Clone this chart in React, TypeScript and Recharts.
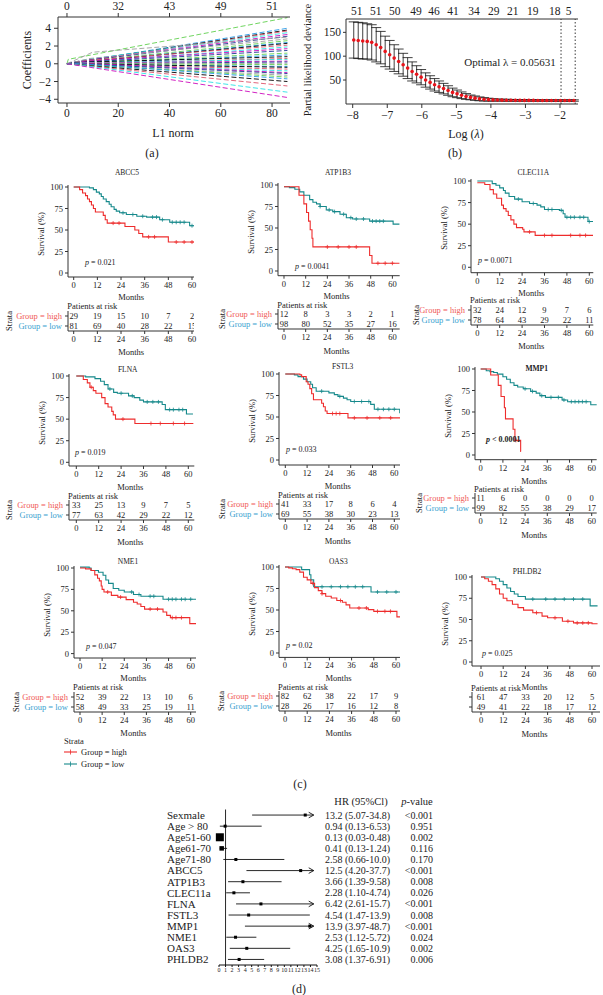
import React from "react";
import { ComposedChart, Line, Scatter, XAxis, YAxis, ErrorBar, ReferenceLine } from "recharts";

const FONT = '"Liberation Serif", "Times New Roman", serif';
const RED = "#EE2C2C";
const TEAL = "#16898B";
const RED_TXT = "#F05A55";
const BLUE_TXT = "#389FD0";
const INK = "#222";

// (a) lasso coefficient paths
const L1_TICKS = [0, 20, 40, 60, 80];
const L1_TOP_COUNTS = [0, 32, 43, 49, 51];
const COEF_ENTRY = [0.5, 4, 6, 2, 8, 5, 3, 9, 7, 1.5, 6, 9, 4, 8, 2, 10, 7, 5, 9, 3, 6, 8, 4, 10, 9, 7, 5, 8, 6, 10, 3, 9, 7, 5, 8, 10, 9, 9];
const COEF_ENTRY_VAL = [0.5, 0.2, 0.3, 0.1, 0.5, 0.3, 0.2, 0.6, 0.3, 0.1, 0.2, 0.4, 0.1, 0.3, 0.1, 1.3, 0.1, 0, 0.2, 0, 0.1, 0.1, 0, 0.1, 0, -0.1, 0, -0.1, -0.1, 0, 0, -0.2, -0.1, 0, -0.2, -0.3, -0.3, -0.4];
const COEF_END = [5.2, 4.0, 3.8, 3.7, 3.5, 3.3, 3.1, 2.8, 2.6, 2.4, 2.3, 2.1, 1.9, 1.7, 1.5, 3.0, 1.2, 1.0, 0.8, 0.6, 0.5, 0.3, 0.2, 0.0, -0.1, -0.3, -0.4, -0.6, -0.8, -1.0, -1.1, -1.3, -1.5, -1.7, -2.0, -2.5, -3.2, -3.8];
const COEF_PALETTE = ["#61D04F", "#2297E6", "#000000", "#DF536B", "#28E2E5", "#CD0BBC", "#1F3A93", "#9E9E9E"];

// (b) cross-validation curve
const LOG_LAMBDA = [-7.97, -7.84, -7.71, -7.58, -7.45, -7.32, -7.19, -7.06, -6.93, -6.8, -6.67, -6.54, -6.41, -6.28, -6.15, -6.02, -5.89, -5.76, -5.63, -5.5, -5.37, -5.24, -5.11, -4.98, -4.85, -4.72, -4.59, -4.46, -4.33, -4.2, -4.07, -3.94, -3.81, -3.68, -3.55, -3.42, -3.29, -3.16, -3.03, -2.9, -2.77, -2.64, -2.51, -2.38, -2.25, -2.12, -1.99, -1.86, -1.73, -1.6];
const CV_MEAN = [134, 133, 132, 131, 129, 124, 118, 110, 103, 96, 89, 82, 75, 68, 62, 56, 50, 45, 40, 36, 32, 28, 24, 21, 18, 15.5, 13.5, 12, 10.5, 9.5, 8.8, 8.3, 8, 7.8, 7.6, 7.5, 7.4, 7.3, 7.3, 7.2, 7.2, 7.1, 7.1, 7.1, 7, 7, 7, 7, 7, 7];
const CV_ERR = [38, 38, 38, 37, 37, 36, 34, 32, 30, 28, 26, 24, 22, 20, 18, 16, 15, 14, 13, 12, 11, 10, 9, 8, 7, 6, 5, 4.5, 4, 3.5, 3, 2.5, 2, 2, 2, 1.8, 1.8, 1.6, 1.6, 1.5, 1.5, 1.5, 1.5, 1.5, 1.5, 1.5, 1.5, 1.5, 1.5, 1.5];
const LAMBDA_TOP_POS = [-7.88, -7.33, -6.78, -6.17, -5.65, -5.1, -4.49, -3.92, -3.37, -2.79, -2.15, -1.75];
const LAMBDA_TOP_NZERO = [51, 51, 50, 49, 46, 41, 34, 29, 21, 19, 18, 5];
const LAMBDA_LINES = [-1.97, -1.56];

// (c) Kaplan-Meier curves: [month, survival %]
const MONTH_TICKS = [0, 12, 24, 36, 48, 60];
const ABCC5_HIGH = [[0, 100], [3, 97], [4.5, 93], [6, 90], [7, 86], [8, 83], [9, 79], [10, 75], [11, 71], [15, 67], [16, 62], [17, 58], [26, 54], [31, 50], [33, 46], [35, 42], [48, 36], [61, 36]];
const ABCC5_LOW = [[0, 100], [8, 99], [10, 97], [11.5, 94], [13, 92], [14, 89], [15, 86], [16.5, 83], [18, 80], [19, 77], [20.5, 74], [21.6, 72], [23.3, 70], [26.7, 68], [32, 66], [37, 65], [43.6, 62], [48.7, 59], [58.8, 55], [61, 55]];
const ABCC5_HIGH_CENS = [20, 23, 38, 41, 52, 56, 60];
const ABCC5_LOW_CENS = [25, 30, 35, 40, 42, 45, 50, 52, 54, 56, 60];
const ABCC5_RISK_HIGH = [29, 19, 15, 10, 7, 2];
const ABCC5_RISK_LOW = [81, 69, 40, 28, 22, 15];

const ATP1B3_HIGH = [[0, 98], [8.3, 88], [11, 78], [12.5, 68], [13.6, 58], [14.5, 48], [15.5, 38], [16, 28], [47.4, 18], [48.7, 9], [64, 9]];
const ATP1B3_LOW = [[0, 98], [3, 97], [6, 95], [8.7, 92], [11, 88], [14.2, 83], [16, 80], [18, 78], [20, 75], [23.4, 71], [27, 69], [31, 66], [34.5, 62], [38, 60.5], [47.4, 58], [60.4, 54.5], [64, 54.5]];
const ATP1B3_HIGH_CENS = [24, 30, 36, 40, 52, 56, 60];
const ATP1B3_LOW_CENS = [20, 25, 28, 33, 37, 40, 44, 49, 51, 53, 55];
const ATP1B3_RISK_HIGH = [12, 8, 3, 3, 2, 1];
const ATP1B3_RISK_LOW = [98, 80, 52, 35, 27, 16];

const CLEC11A_HIGH = [[0, 98], [4, 96], [6.8, 90], [8.6, 85], [10.4, 80], [13, 72], [14, 68], [15.4, 65], [16.6, 60], [18, 55], [19.6, 50], [21, 46], [24.3, 44], [25, 41], [31, 37], [62, 37]];
const CLEC11A_LOW = [[0, 100], [8, 97], [10, 95], [12, 92], [14, 89], [15, 86], [17, 82], [20, 79], [24, 76], [28, 74], [32, 72], [34, 70], [36, 67], [44, 66], [46, 62], [47, 58], [59.3, 53], [62, 53]];
const CLEC11A_HIGH_CENS = [28, 36, 40, 50, 55, 58];
const CLEC11A_LOW_CENS = [22, 30, 38, 40, 45, 48, 50, 52, 55, 57, 60];
const CLEC11A_RISK_HIGH = [32, 24, 12, 9, 7, 6];
const CLEC11A_RISK_LOW = [78, 64, 43, 29, 22, 11];

const FLNA_HIGH = [[0, 100], [3.75, 96], [5.9, 92], [7.3, 87], [9.1, 83], [10.5, 80], [13.6, 75], [15.4, 68], [17, 64], [19, 59], [19.8, 55], [21, 50], [31.4, 45], [62.7, 45]];
const FLNA_LOW = [[0, 100], [5, 99], [10, 97], [13, 94], [15, 90], [17, 85], [20, 81], [22, 80], [28, 77], [31, 75], [34, 72], [36, 70], [46, 67], [47.7, 61], [59, 56], [62.5, 56]];
const FLNA_HIGH_CENS = [8, 25, 40, 45, 52, 58];
const FLNA_LOW_CENS = [18, 24, 30, 38, 41, 44, 50, 52, 55, 57];
const FLNA_RISK_HIGH = [33, 25, 13, 9, 7, 5];
const FLNA_RISK_LOW = [77, 63, 42, 29, 22, 12];

const FSTL3_HIGH = [[0, 100], [8, 99], [9, 97], [11.5, 91], [12.5, 88], [13.5, 83], [14.5, 77], [15.5, 70], [20, 66], [21, 62], [22, 57], [23, 54], [34.5, 49], [64, 49]];
const FSTL3_LOW = [[0, 100], [5, 99], [7, 97], [10, 94], [12, 91], [14, 88], [15, 84], [17, 80], [24, 78], [27, 76], [29, 74], [32, 72], [34, 70], [36, 68], [47, 64.7], [49, 59], [63, 55], [64, 55]];
const FSTL3_HIGH_CENS = [26, 28, 30, 38, 45, 52, 58];
const FSTL3_LOW_CENS = [20, 30, 38, 42, 46, 51, 54, 57, 60];
const FSTL3_RISK_HIGH = [41, 33, 17, 8, 6, 4];
const FSTL3_RISK_LOW = [69, 55, 38, 30, 23, 13];

const MMP1_HIGH = [[0, 100], [5.4, 93], [9.5, 81], [11, 68], [12.8, 55], [13.4, 42], [17.5, 30], [18.5, 17], [21.6, 4], [21.7, 4]];
const MMP1_LOW = [[0, 100], [3, 98], [5, 97], [7, 96], [9, 94], [12, 91], [14, 88], [16, 84], [18, 81], [20, 79], [23, 77], [27, 74], [30, 72], [32, 69], [35, 67], [44, 64], [47, 62], [59.5, 58.5], [63, 58.5]];
const MMP1_HIGH_CENS = [19];
const MMP1_LOW_CENS = [24, 28, 33, 38, 42, 45, 49, 51, 53, 55, 57];
const MMP1_RISK_HIGH = [11, 6, 0, 0, 0, 0];
const MMP1_RISK_LOW = [99, 82, 55, 38, 29, 17];

const NME1_HIGH = [[0, 100], [3, 99], [6, 97], [8, 92], [9.5, 88], [10.5, 85], [11.5, 79], [12, 75], [13, 72], [17, 68], [20.5, 66], [25, 63], [29, 60], [31, 58], [33, 55], [35, 52], [45, 48.6], [47, 44.7], [49, 42], [59.5, 35], [63, 35]];
const NME1_LOW = [[0, 101], [5, 100], [6, 97], [10, 95], [12.5, 91.5], [14, 86], [15.5, 82], [18, 76], [21, 74], [24, 72], [29, 69], [33, 67], [45, 63.5], [63, 63.5]];
const NME1_HIGH_CENS = [15, 22, 38, 42, 50, 52, 55];
const NME1_LOW_CENS = [28, 32, 38, 40, 48, 50, 52, 55, 57, 60];
const NME1_RISK_HIGH = [52, 39, 22, 13, 10, 6];
const NME1_RISK_LOW = [58, 49, 33, 25, 19, 11];

const OAS3_HIGH = [[0, 100], [2, 99], [4, 98], [6, 97], [8, 94], [10, 88], [12, 85], [14, 81], [16, 76], [18, 72.5], [20, 69], [22, 66], [25, 64], [28, 61], [31, 59], [33, 56], [35, 52.3], [45, 50.4], [48, 48.4], [60.5, 42], [63, 42]];
const OAS3_LOW = [[0, 100], [9, 97], [13.3, 91], [14, 85], [15.5, 77], [46.5, 71], [63, 71]];
const OAS3_HIGH_CENS = [15, 20, 30, 40, 44, 50, 54, 57];
const OAS3_LOW_CENS = [20, 25, 30, 34, 38, 42, 50, 55, 60];
const OAS3_RISK_HIGH = [82, 62, 38, 22, 17, 9];
const OAS3_RISK_LOW = [28, 26, 17, 16, 12, 8];

const PHLDB2_HIGH = [[0, 100], [2, 98], [4, 95], [6, 91], [8, 86], [10, 80], [12, 75], [14, 72], [17, 68], [20, 64], [23, 61], [28, 58], [33, 54], [36, 52], [44, 48], [50, 46], [60, 45], [63, 45]];
const PHLDB2_LOW = [[0, 100], [8, 98], [10, 95], [12, 91], [14, 87], [16, 83], [18, 80], [20, 77], [24, 74], [58, 74], [59, 66], [63, 66]];
const PHLDB2_HIGH_CENS = [30, 40, 47, 52, 55, 58];
const PHLDB2_LOW_CENS = [28, 35, 40, 45, 50, 55];
const PHLDB2_RISK_HIGH = [61, 47, 33, 20, 12, 5];
const PHLDB2_RISK_LOW = [49, 41, 22, 18, 17, 12];

// (d) multivariate Cox forest plot
const FOREST_LABELS = ["Sexmale", "Age > 80", "Age51-60", "Age61-70", "Age71-80", "ABCC5", "ATP1B3", "CLEC11a", "FLNA", "FSTL3", "MMP1", "NME1", "OAS3", "PHLDB2"];
const FOREST_HR = [13.2, 0.94, 0.13, 0.41, 2.58, 12.5, 3.66, 2.28, 6.42, 4.54, 13.9, 2.53, 4.25, 3.08];
const FOREST_LO = [5.07, 0.13, 0.03, 0.13, 0.66, 4.2, 1.39, 1.1, 2.61, 1.47, 3.97, 1.12, 1.65, 1.37];
const FOREST_HI = [34.8, 6.53, 0.48, 1.24, 10.0, 37.7, 9.58, 4.74, 15.7, 13.9, 48.7, 5.72, 10.9, 6.91];
const FOREST_P = ["<0.001", "0.951", "0.002", "0.116", "0.170", "<0.001", "0.008", "0.026", "<0.001", "0.008", "<0.001", "0.024", "0.002", "0.006"];
const FOREST_TICKS = [0, 1, 2, 3, 4, 5, 6, 7, 8, 9, 10, 11, 12, 13, 14, 15];

// layout (pixel geometry of each survival panel)
const KM_PANELS = [
  { title: "ABCC5", high: ABCC5_HIGH, low: ABCC5_LOW, hc: ABCC5_HIGH_CENS, lc: ABCC5_LOW_CENS, rh: ABCC5_RISK_HIGH, rl: ABCC5_RISK_LOW, p: "= 0.021",
    g: { ax: 68.3, x0: 74, x60: 192.3, xEnd: 194.3, y100: 186.7, y0: 272.7, xAxisY: 276.7, tAxisY: 330.7, titleX: 127, titleY: 173, pX: 85, pY: 262.7, stX: 5 } },
  { title: "ATP1B3", high: ATP1B3_HIGH, low: ATP1B3_LOW, hc: ATP1B3_HIGH_CENS, lc: ATP1B3_LOW_CENS, rh: ATP1B3_RISK_HIGH, rl: ATP1B3_RISK_LOW, p: "= 0.0041",
    g: { ax: 278.3, x0: 284.3, x60: 392.7, xEnd: 400, y100: 185, y0: 271, xAxisY: 275.7, tAxisY: 329, titleX: 338, titleY: 173, pX: 295, pY: 267.3, stX: 218 } },
  { title: "CLEC11A", high: CLEC11A_HIGH, low: CLEC11A_LOW, hc: CLEC11A_HIGH_CENS, lc: CLEC11A_LOW_CENS, rh: CLEC11A_RISK_HIGH, rl: CLEC11A_RISK_LOW, p: "= 0.0071",
    g: { ax: 471, x0: 477.3, x60: 589.3, xEnd: 593.3, y100: 181, y0: 267.3, xAxisY: 272.7, tAxisY: 324.5, titleX: 533.3, titleY: 173.3, pX: 478, pY: 261, stX: 411.7 } },
  { title: "FLNA", high: FLNA_HIGH, low: FLNA_LOW, hc: FLNA_HIGH_CENS, lc: FLNA_LOW_CENS, rh: FLNA_RISK_HIGH, rl: FLNA_RISK_LOW, p: "= 0.019",
    g: { ax: 69, x0: 76.3, x60: 188.3, xEnd: 194.3, y100: 376, y0: 462.3, xAxisY: 466, tAxisY: 520, titleX: 127.7, titleY: 370, pX: 75, pY: 453.3, stX: 5 } },
  { title: "FSTL3", high: FSTL3_HIGH, low: FSTL3_LOW, hc: FSTL3_HIGH_CENS, lc: FSTL3_LOW_CENS, rh: FSTL3_RISK_HIGH, rl: FSTL3_RISK_LOW, p: "= 0.033",
    g: { ax: 279, x0: 285.3, x60: 394.3, xEnd: 400, y100: 374, y0: 460, xAxisY: 465, tAxisY: 519, titleX: 342.7, titleY: 367.3, pX: 286, pY: 450, stX: 218.3 } },
  { title: "MMP1", high: MMP1_HIGH, low: MMP1_LOW, hc: MMP1_HIGH_CENS, lc: MMP1_LOW_CENS, rh: MMP1_RISK_HIGH, rl: MMP1_RISK_LOW, p: "< 0.0001", bold: true,
    g: { ax: 475, x0: 480.7, x60: 591.7, xEnd: 596.7, y100: 369.3, y0: 455.3, xAxisY: 460, tAxisY: 513.3, titleX: 536.7, titleY: 369.3, pX: 486, pY: 440, stX: 415 } },
  { title: "NME1", high: NME1_HIGH, low: NME1_LOW, hc: NME1_HIGH_CENS, lc: NME1_LOW_CENS, rh: NME1_RISK_HIGH, rl: NME1_RISK_LOW, p: "= 0.047",
    g: { ax: 74, x0: 80, x60: 190.7, xEnd: 196, y100: 567.7, y0: 653.3, xAxisY: 657.7, tAxisY: 711.7, titleX: 128, titleY: 561.7, pX: 86, pY: 646.7, stX: 12 } },
  { title: "OAS3", high: OAS3_HIGH, low: OAS3_LOW, hc: OAS3_HIGH_CENS, lc: OAS3_LOW_CENS, rh: OAS3_RISK_HIGH, rl: OAS3_RISK_LOW, p: "= 0.02",
    g: { ax: 279, x0: 285, x60: 396, xEnd: 400, y100: 567.3, y0: 653.3, xAxisY: 657.7, tAxisY: 711, titleX: 338.3, titleY: 561.7, pX: 286, pY: 646, stX: 217 } },
  { title: "PHLDB2", high: PHLDB2_HIGH, low: PHLDB2_LOW, hc: PHLDB2_HIGH_CENS, lc: PHLDB2_LOW_CENS, rh: PHLDB2_RISK_HIGH, rl: PHLDB2_RISK_LOW, p: "= 0.025", noGroups: true,
    g: { ax: 472, x0: 481, x60: 592, xEnd: 600, y100: 577, y0: 662, xAxisY: 666, tAxisY: 712, titleX: 527, titleY: 572, pX: 482, pY: 654, stX: 0 } },
];

const minus = (v: number) => (v < 0 ? `\u2212${-v}` : `${v}`);

function T({ x, y, size = 9, anchor = "middle", rotate = false, style = {}, children }: any) {
  const tx = anchor === "middle" ? "-50%" : anchor === "end" ? "-100%" : "0";
  return (
    <div
      style={{
        position: "absolute", left: x, top: y, whiteSpace: "nowrap", lineHeight: 1, fontSize: size, color: INK,
        transform: `translate(${tx}, -50%)${rotate ? " rotate(-90deg)" : ""}`, ...style,
      }}
    >
      {children}
    </div>
  );
}

const toPts = (arr: number[][]) => arr.map(([x, y]) => ({ x, y }));
const stepAt = (arr: number[][], t: number) => {
  let v = arr[0][1];
  for (const [x, y] of arr) if (x <= t) v = y;
  return v;
};
const plusShape = (color: string) => (p: any) => (
  <path d={`M${p.cx - 2},${p.cy}h4M${p.cx},${p.cy - 2}v4`} stroke={color} strokeWidth={0.8} />
);
const numShape = (p: any) => (
  <text x={p.cx} y={p.cy} dy="0.35em" textAnchor="middle" fontSize={8.5} fontFamily={FONT} fill={INK}>
    {p.payload.n}
  </text>
);

const smallTick = { fontSize: 8.5, fill: INK, fontFamily: FONT };

function KMPanel({ panel }: any) {
  const { g } = panel;
  const ppm = (g.x60 - g.x0) / 60;
  const xMin = -(g.x0 - g.ax) / ppm;
  const xMax = (g.xEnd - g.x0) / ppm;
  const ppp = (g.y0 - g.y100) / 100;
  const plotTop = g.y100 - 2;
  const yMax = 100 + 2 / ppp;
  const yMin = -(g.xAxisY - g.y0) / ppp;
  const YW = 34, XH = 24, MT = 2, MR = 6;
  const W = YW + (g.xEnd - g.ax) + MR;
  const H = MT + (g.xAxisY - plotTop) + XH;

  const TW = 64, TH = 20;
  const riskPts = [
    ...panel.rh.map((n: number, i: number) => ({ x: MONTH_TICKS[i], y: 1.5, n })),
    ...panel.rl.map((n: number, i: number) => ({ x: MONTH_TICKS[i], y: 0.5, n })),
  ];
  const midX = (g.x0 + g.x60) / 2 - 2;

  return (
    <>
      <T x={g.titleX} y={g.titleY} size={7.5} style={{ fontWeight: panel.bold ? "bold" : "normal" }}>{panel.title}</T>
      <T x={g.ax - 27} y={(g.y100 + g.y0) / 2 + 4} size={8.5} rotate>Survival (%)</T>
      <div style={{ position: "absolute", left: g.ax - YW, top: plotTop - MT }}>
        <ComposedChart width={W} height={H} margin={{ top: MT, right: MR, left: 0, bottom: 0 }}>
          <XAxis type="number" dataKey="x" domain={[xMin, xMax]} ticks={MONTH_TICKS} interval={0} allowDataOverflow
            height={XH} tickSize={3} tickMargin={2} stroke="#333" tick={smallTick} />
          <YAxis type="number" dataKey="y" domain={[yMin, yMax]} ticks={[0, 25, 50, 75, 100]} interval={0} allowDataOverflow
            width={YW} tickSize={3} tickMargin={2} stroke="#333" tick={smallTick} />
          <Line data={toPts(panel.low)} dataKey="y" type="stepAfter" stroke={TEAL} strokeWidth={1.1} dot={false} isAnimationActive={false} />
          <Line data={toPts(panel.high)} dataKey="y" type="stepAfter" stroke={RED} strokeWidth={1.1} dot={false} isAnimationActive={false} />
          <Scatter data={panel.lc.map((t: number) => ({ x: t, y: stepAt(panel.low, t) }))} dataKey="y" shape={plusShape(TEAL)} isAnimationActive={false} />
          <Scatter data={panel.hc.map((t: number) => ({ x: t, y: stepAt(panel.high, t) }))} dataKey="y" shape={plusShape(RED)} isAnimationActive={false} />
        </ComposedChart>
      </div>
      <T x={g.pX} y={g.pY} size={8} anchor="start" style={{ fontWeight: panel.bold ? "bold" : "normal" }}>
        <i>p</i> {panel.p}
      </T>
      <T x={midX} y={g.xAxisY + 20.5} size={8.5}>Months</T>
      <T x={g.ax - 1} y={g.tAxisY - 24.5} size={8.5} anchor="start">Patients at risk</T>
      <div style={{ position: "absolute", left: g.ax - TW, top: g.tAxisY - TH - 1 }}>
        <ComposedChart width={TW + (g.xEnd - g.ax) + MR} height={1 + TH + 22} margin={{ top: 1, right: MR, left: 0, bottom: 0 }}>
          <XAxis type="number" dataKey="x" domain={[xMin, xMax]} ticks={MONTH_TICKS} interval={0} allowDataOverflow
            height={22} tickSize={3} tickMargin={2} stroke="#333" tick={smallTick} />
          <YAxis type="number" dataKey="y" domain={[0, 2]} ticks={[0.5, 1.5]} interval={0} width={TW} tickSize={3} tickMargin={3} stroke="#333"
            tick={(p: any) => (
              <text x={p.x} y={p.y} dy="0.35em" textAnchor="end" fontSize={8.5} fontFamily={FONT}
                fill={p.payload.value > 1 ? RED_TXT : BLUE_TXT}>
                {panel.noGroups ? "" : p.payload.value > 1 ? "Group = high" : "Group = low"}
              </text>
            )} />
          <Scatter data={riskPts} dataKey="y" shape={numShape} isAnimationActive={false} />
        </ComposedChart>
      </div>
      {!panel.noGroups && <T x={g.stX + 4} y={g.tAxisY - 10} size={8.5} rotate>Strata</T>}
      <T x={midX} y={g.tAxisY + 21.5} size={8.5}>Months</T>
    </>
  );
}

function LassoPaths() {
  return (
    <div style={{ position: "absolute", left: 0, top: 0 }}>
      <ComposedChart width={300} height={125} margin={{ top: 2, right: 10, left: 0, bottom: 0 }}>
        <XAxis xAxisId="b" type="number" dataKey="x" domain={[-3.5, 87]} ticks={L1_TICKS} interval={0} allowDataOverflow
          height={22} tickSize={4} tickMargin={2} stroke="#333" tick={{ fontSize: 11.5, fill: INK, fontFamily: FONT }} />
        <XAxis xAxisId="t" orientation="top" type="number" dataKey="x" domain={[-3.5, 87]} ticks={L1_TICKS} interval={0} allowDataOverflow
          height={15} tickSize={4} tickMargin={3} stroke="#333" tick={{ fontSize: 11.5, fill: INK, fontFamily: FONT }}
          tickFormatter={(v: number, i: number) => `${L1_TOP_COUNTS[i]}`} />
        <YAxis yAxisId="l" type="number" dataKey="y" domain={[-4.42, 5.27]} ticks={[-4, -2, 0, 2, 4]} interval={0} allowDataOverflow
          width={58} tickSize={4} tickMargin={3} stroke="#333" tick={{ fontSize: 11.5, fill: INK, fontFamily: FONT }} tickFormatter={minus} />
        <YAxis yAxisId="r" orientation="right" type="number" dataKey="y" domain={[-4.42, 5.27]} width={0} tick={false} tickLine={false} stroke="#333" />
        {COEF_END.map((end, i) => (
          <Line key={i} xAxisId="b" yAxisId="l" type="linear" dataKey="y"
            data={[{ x: 0, y: 0 }, { x: COEF_ENTRY[i], y: COEF_ENTRY_VAL[i] }, { x: 86, y: end }]}
            stroke={COEF_PALETTE[i % COEF_PALETTE.length]} strokeWidth={0.9} strokeDasharray="5 2.5" dot={false} isAnimationActive={false} />
        ))}
      </ComposedChart>
    </div>
  );
}

function CvCurve() {
  const data = LOG_LAMBDA.map((x, i) => ({ x, y: CV_MEAN[i], err: CV_ERR[i] }));
  const axisTick = { fontSize: 11.5, fill: INK, fontFamily: FONT };
  return (
    <div style={{ position: "absolute", left: 300, top: 0 }}>
      <ComposedChart width={282} height={126} margin={{ top: 5, right: 4, left: 0, bottom: 0 }}>
        <XAxis xAxisId="b" type="number" dataKey="x" domain={[-8.194, -1.479]} ticks={[-8, -7, -6, -5, -4, -3, -2]} interval={0} allowDataOverflow
          height={22} tickSize={4} tickMargin={3} stroke="#333" tick={axisTick} tickFormatter={minus} />
        <XAxis xAxisId="t" orientation="top" type="number" dataKey="x" domain={[-8.194, -1.479]} ticks={LAMBDA_TOP_POS} interval={0} allowDataOverflow
          height={14} tickSize={2} tickMargin={2} tickLine={false} stroke="#333" tick={axisTick}
          tickFormatter={(v: number, i: number) => `${LAMBDA_TOP_NZERO[i]}`} />
        <YAxis yAxisId="l" type="number" dataKey="y" domain={[-0.3, 178]} ticks={[50, 100, 150]} interval={0} allowDataOverflow
          width={46} tickSize={3} tickMargin={2} stroke="#333" tick={axisTick} />
        <YAxis yAxisId="r" orientation="right" type="number" dataKey="y" domain={[-0.3, 178]} width={0} tick={false} tickLine={false} stroke="#333" />
        {LAMBDA_LINES.map((v) => (
          <ReferenceLine key={v} xAxisId="b" yAxisId="l" x={v} stroke="#222" strokeWidth={0.9} strokeDasharray="1.5 2" />
        ))}
        <Scatter xAxisId="b" yAxisId="l" data={data} dataKey="y" isAnimationActive={false}
          shape={(p: any) => <circle cx={p.cx} cy={p.cy} r={1.8} fill="#E8141B" />}>
          <ErrorBar dataKey="err" direction="y" width={5} stroke="#111" strokeWidth={0.8} />
        </Scatter>
      </ComposedChart>
    </div>
  );
}

function ForestPlot() {
  const fmt = (v: number) => (v >= 10 ? v.toFixed(1) : v.toFixed(2));
  const pts = FOREST_HR.map((x, i) => ({ x, y: i }));
  const boxSize = (i: number) => (FOREST_LABELS[i] === "Age51-60" ? 8 : FOREST_LABELS[i] === "Age61-70" ? 4.5 : 3);
  const rows = FOREST_LABELS.map((_, i) => i);
  return (
    <div style={{ position: "absolute", left: 160, top: 800 }}>
      <ComposedChart width={300} height={180} margin={{ top: 9.5, right: 143, left: 0, bottom: 0 }}>
        <XAxis type="number" dataKey="x" domain={[0, 15]} ticks={FOREST_TICKS} interval={0} height={15} tickSize={2} tickMargin={1}
          stroke="#111" tick={{ fontSize: 6, fill: INK, fontFamily: FONT }} />
        <YAxis type="number" dataKey="y" domain={[-0.5, 13.5]} reversed ticks={rows} interval={0} width={59} axisLine={false} tickLine={false}
          tickSize={0} tickMargin={0}
          tick={(p: any) => {
            const i = p.payload.value;
            return (
              <g>
                <text x={p.x - 52} y={p.y} dy="0.35em" textAnchor="start" fontSize={11} fontFamily={FONT} fill={INK}>
                  {FOREST_LABELS[i]}
                </text>
                <text x={p.x + 106} y={p.y} dy="0.35em" textAnchor="start" fontSize={10} fontFamily={FONT} fill={INK}>
                  {`${fmt(FOREST_HR[i])} (${fmt(FOREST_LO[i])}-${fmt(FOREST_HI[i])})`}
                </text>
                <text x={p.x + 214} y={p.y} dy="0.35em" textAnchor="end" fontSize={10} fontFamily={FONT} fill={INK}>
                  {FOREST_P[i]}
                </text>
              </g>
            );
          }} />
        <ReferenceLine x={1} stroke="#111" strokeWidth={0.9} />
        {rows.map((i) => {
          const arrow = FOREST_HI[i] > 15;
          return (
            <ReferenceLine key={i} segment={[{ x: FOREST_LO[i], y: i }, { x: arrow ? 14.5 : FOREST_HI[i], y: i }]}
              stroke="#111" strokeWidth={0.9}
              shape={(p: any) => (
                <g>
                  <line x1={p.x1} y1={p.y1} x2={p.x2} y2={p.y2} stroke="#111" strokeWidth={0.9} />
                  {arrow && <path d={`M${p.x2 - 5},${p.y2 - 2.8}L${p.x2},${p.y2}L${p.x2 - 5},${p.y2 + 2.8}`} fill="none" stroke="#111" strokeWidth={0.9} />}
                </g>
              )} />
          );
        })}
        <Scatter data={pts} dataKey="y" isAnimationActive={false}
          shape={(p: any) => {
            const s = boxSize(p.payload.y);
            return <rect x={p.cx - s / 2} y={p.cy - s / 2} width={s} height={s} fill="#000" />;
          }} />
      </ComposedChart>
    </div>
  );
}

export default function App() {
  return (
    <div style={{ position: "absolute", left: 0, top: 0, width: 603, height: 995, background: "#fff", overflow: "hidden", fontFamily: FONT, color: INK }}>
      <LassoPaths />
      <T x={27} y={60} size={12} rotate>Coefficients</T>
      <T x={173} y={133} size={12}>L1 norm</T>
      <T x={152} y={153} size={12}>(a)</T>

      <CvCurve />
      <T x={308} y={60} size={10.5} rotate>Partial likelihood deviance</T>
      <T x={510} y={62} size={11}>Optimal λ = 0.05631</T>
      <T x={466} y={134} size={12}>Log (<i>λ</i>)</T>
      <T x={455} y={153} size={12}>(b)</T>

      {KM_PANELS.map((panel) => (
        <KMPanel key={panel.title} panel={panel} />
      ))}

      <T x={64} y={741} size={8.5} anchor="start">Strata</T>
      {[{ c: RED, l: "Group = high", y: 751.5 }, { c: TEAL, l: "Group = low", y: 763.5 }].map((s) => (
        <React.Fragment key={s.l}>
          <svg style={{ position: "absolute", left: 64, top: s.y - 4 }} width={14} height={8}>
            <line x1={0} y1={4} x2={13} y2={4} stroke={s.c} strokeWidth={1.1} />
            <path d="M6.5,1.5v5" stroke={s.c} strokeWidth={0.8} />
          </svg>
          <T x={81} y={s.y} size={8.5} anchor="start">{s.l}</T>
        </React.Fragment>
      ))}
      <T x={300} y={784} size={12}>(c)</T>

      <ForestPlot />
      <T x={361} y={802} size={10.5}>HR (95%Cl)</T>
      <T x={417} y={802} size={10.5}><i>p</i>-value</T>
      <T x={299} y={989} size={12}>(d)</T>
    </div>
  );
}
